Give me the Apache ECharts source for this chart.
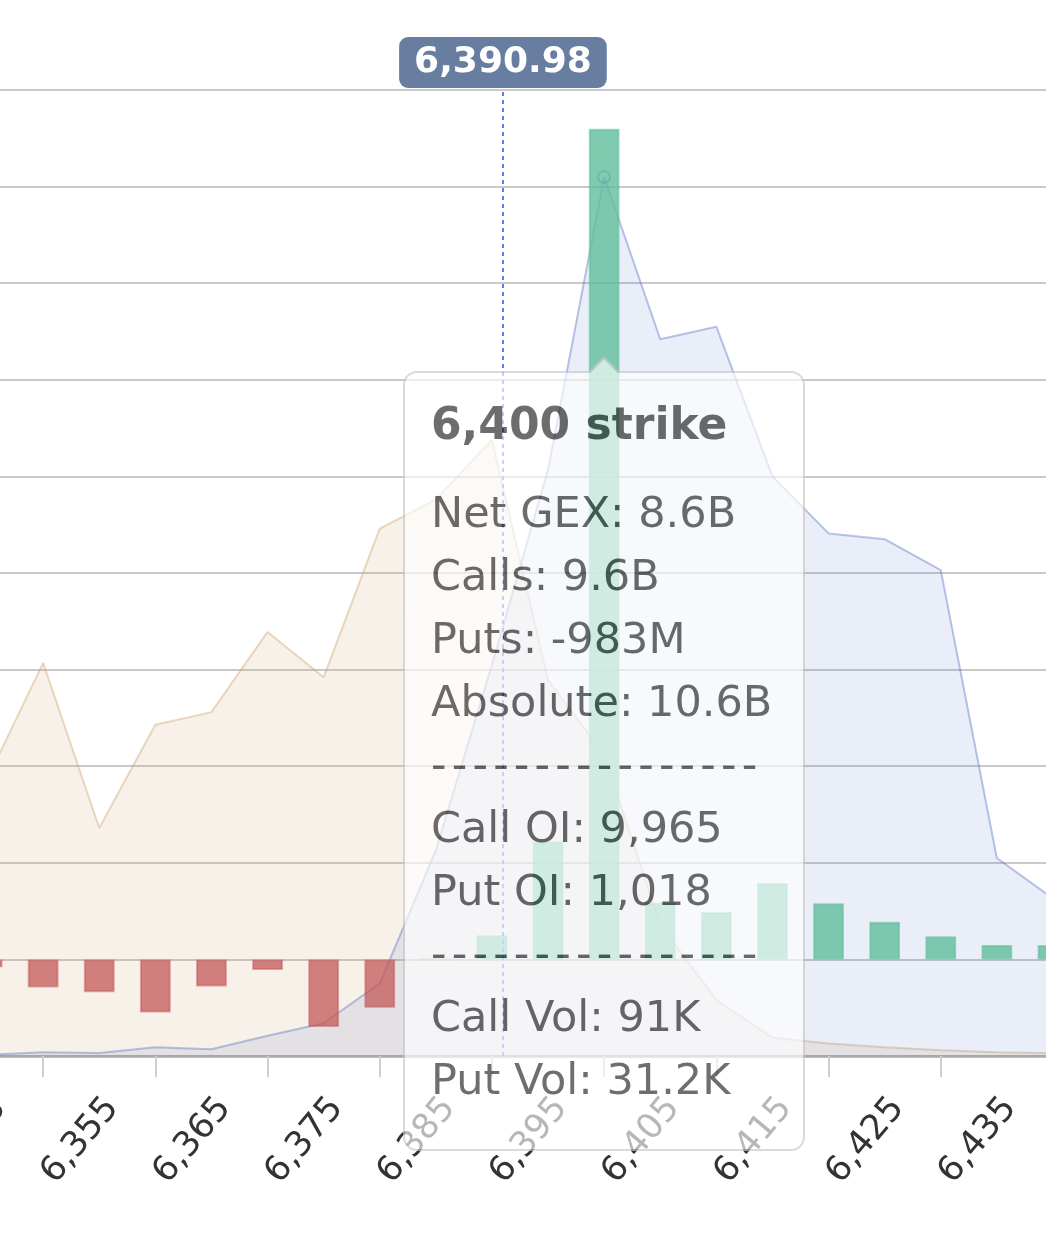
<!DOCTYPE html>
<html>
<head>
<meta charset="utf-8">
<script src="https://cdn.jsdelivr.net/npm/echarts@6/dist/echarts.min.js"></script>
<style>
  html, body { margin: 0; padding: 0; background: #fff; }
  #chart { width: 1046px; height: 1250px; }
</style>
</head>
<body>
<div id="chart"></div>
<script>
// ---- data ----
const strikes = [6345, 6350, 6355, 6360, 6365, 6370, 6375, 6380, 6385, 6390,
                 6395, 6400, 6405, 6410, 6415, 6420, 6425, 6430, 6435, 6440];
// Net GEX per strike, billions
const netGex = [-0.08, -0.29, -0.34, -0.55, -0.28, -0.11, -0.70, -0.50, 0.00, 0.25,
                 1.22, 8.6, 0.59, 0.49, 0.79, 0.58, 0.39, 0.24, 0.15, 0.15];
// Call volume per strike, thousands
const callVol = [0.1, 0.4, 0.3, 0.9, 0.7, 2.1, 3.4, 7.5, 21.3, 40.5,
                 60.7, 91, 74.2, 75.5, 60.0, 54.1, 53.5, 50.3, 20.5, 16.3];
// Put volume per strike, thousands
const putVol = [28.6, 40.7, 23.6, 34.3, 35.6, 43.9, 39.2, 54.6, 57.6, 63.8,
                38.9, 31.2, 13.6, 5.8, 1.9, 1.3, 0.9, 0.6, 0.4, 0.3];
// spot price marker
const spotPrice = 6390.98;
// hovered strike details (tooltip)
const hoverStrike = 6400;
const hoverCallsGex = 9.6;     // billions
const hoverPutsGex = -0.983;   // billions
const hoverCallOI = 9965;
const hoverPutOI = 1018;
const hoverPointerGex = 6.09;  // pointer height on the GEX axis
// axis scales
const gexMin = -1, gexMax = 9, gexStep = 1;
const volMin = 0, volMax = 100, volStep = 10;

const FONT = "'DejaVu Sans', 'Noto Sans', sans-serif";

function fmtGex(v) {
  if (Math.abs(v) >= 1) return v.toFixed(1) + 'B';
  return Math.round(v * 1000) + 'M';
}
function fmtK(v) { return (Math.round(v * 10) / 10) + 'K'; }
function fmtNum(v) { return Number(v).toLocaleString('en-US'); }

const chart = echarts.init(document.getElementById('chart'));

const GREEN = 'rgba(95,190,155,0.8)';
const GREEN_B = 'rgba(95,190,155,0.55)';
const RED = 'rgba(196,88,88,0.75)';
const RED_B = 'rgba(196,88,88,0.5)';

const halfStep = (strikes[1] - strikes[0]) / 2;

const option = {
  animation: false,
  backgroundColor: '#ffffff',
  grid: { left: -41, right: -35, top: 90, bottom: 194, containLabel: false, outerBoundsMode: 'none' },
  xAxis: [
    {
      type: 'category',
      data: strikes.map(String),
      boundaryGap: true,
      axisLine: { show: true, onZero: false, lineStyle: { color: '#a9a9a9', width: 2.5 } },
      axisTick: {
        show: true, alignWithLabel: true, length: 21,
        interval: function (i) { return i % 2 === 1; },
        lineStyle: { color: '#cfcfcf', width: 2 }
      },
      axisLabel: {
        interval: 1, rotate: 50, margin: 35, verticalAlign: 'top',
        color: '#333', fontSize: 35, fontFamily: FONT,
        formatter: function (v) { return fmtNum(v); }
      },
      splitLine: { show: false }
    },
    {
      type: 'value', show: false,
      min: strikes[0] - halfStep, max: strikes[strikes.length - 1] + halfStep,
      splitLine: { show: false }
    }
  ],
  yAxis: [
    {
      type: 'value', min: gexMin, max: gexMax, interval: gexStep,
      axisLabel: { show: false }, axisLine: { show: false }, axisTick: { show: false },
      splitLine: { show: true, lineStyle: { color: '#c9c9c9', width: 2 } }
    },
    {
      type: 'value', min: volMin, max: volMax, interval: volStep, show: false,
      splitLine: { show: false }
    }
  ],
  tooltip: {
    show: true,
    trigger: 'item',
    triggerOn: 'none',
    alwaysShowContent: true,
    transitionDuration: 0,
    showDelay: 0,
    backgroundColor: '#ffffff',
    borderColor: '#c6c6c6',
    borderWidth: 2,
    padding: [19, 26, 38, 26],
    extraCssText: 'opacity:0.65;border-radius:14px;box-shadow:none;overflow:visible;',
    textStyle: { fontFamily: FONT, fontSize: 42, color: '#1f1f1f' },
    position: function (point, params, dom, rect, size) {
      const cx = chart.convertToPixel({ xAxisIndex: 0 }, String(strikes[params.dataIndex]));
      const cy = chart.convertToPixel({ yAxisIndex: 0 }, hoverPointerGex);
      return [cx - size.contentSize[0] / 2, cy];
    },
    formatter: function (p) {
      const i = p.dataIndex;
      const dash = '-'.repeat(16);
      const abs = hoverCallsGex + Math.abs(hoverPutsGex);
      const lines = [
        'Net GEX: ' + fmtGex(netGex[i]),
        'Calls: ' + fmtGex(hoverCallsGex),
        'Puts: ' + fmtGex(hoverPutsGex),
        'Absolute: ' + fmtGex(abs),
        dash,
        'Call OI: ' + fmtNum(hoverCallOI),
        'Put OI: ' + fmtNum(hoverPutOI),
        dash,
        'Call Vol: ' + fmtK(callVol[i]),
        'Put Vol: ' + fmtK(putVol[i])
      ];
      let html = '<div style="position:absolute;left:calc(50% - 11px);top:-12px;width:22px;height:22px;box-sizing:border-box;background:#fff;border-left:2px solid #c6c6c6;border-top:2px solid #c6c6c6;transform:rotate(45deg);"></div>';
      html += '<div style="width:346px;font-family:' + FONT.replace(/'/g, '&quot;') + ';color:#1f1f1f;">';
      html += '<div style="font-weight:bold;font-size:44px;line-height:63px;margin-bottom:26px;">' + fmtNum(strikes[i]) + ' strike</div>';
      lines.forEach(function (t) {
        const ls = t === dash ? 'letter-spacing:5.2px;' : '';
        html += '<div style="font-size:43px;line-height:63px;white-space:nowrap;' + ls + '">' + t + '</div>';
      });
      html += '</div>';
      return html;
    }
  },
  series: [
    {
      name: 'Put Volume', type: 'line', xAxisIndex: 0, yAxisIndex: 1,
      data: putVol, symbol: 'none', silent: true, z: 1,
      lineStyle: { color: 'rgba(205,160,105,0.4)', width: 2 },
      areaStyle: { color: 'rgba(205,160,105,0.21)' },
      tooltip: { show: false }
    },
    {
      name: 'Call Volume', type: 'line', xAxisIndex: 0, yAxisIndex: 1,
      data: callVol, symbol: 'none', silent: true, z: 2,
      lineStyle: { color: 'rgba(80,110,195,0.4)', width: 2 },
      areaStyle: { color: 'rgba(80,110,195,0.17)' },
      tooltip: { show: false },
      markPoint: {
        silent: true,
        symbol: 'circle', symbolSize: 12,
        itemStyle: { color: 'rgba(255,255,255,0)', borderColor: 'rgba(80,110,195,0.22)', borderWidth: 2 },
        label: { show: false },
        data: [{ coord: [String(hoverStrike), callVol[strikes.indexOf(hoverStrike)]] }]
      }
    },
    {
      name: 'Net GEX', type: 'bar', xAxisIndex: 0, yAxisIndex: 0, z: 3,
      barWidth: '55%',
      data: netGex.map(function (v) {
        return {
          value: v,
          itemStyle: {
            color: v >= 0 ? GREEN : RED,
            borderColor: v >= 0 ? GREEN_B : RED_B,
            borderWidth: 2
          }
        };
      }),
      emphasis: { disabled: true }
    },
    {
      name: 'Spot', type: 'line', xAxisIndex: 1, yAxisIndex: 0, data: [], z: 4,
      symbol: 'none', silent: true, tooltip: { show: false },
      markLine: {
        silent: true,
        symbol: ['none', 'none'],
        lineStyle: { color: '#5b7de6', width: 2, type: [4, 4] },
        label: {
          show: true, position: 'end', distance: 2,
          formatter: function () { return fmtNum(spotPrice); },
          backgroundColor: '#687ea1', color: '#ffffff',
          fontFamily: FONT, fontWeight: 'bold', fontSize: 36,
          padding: [8, 15, 7, 15], borderRadius: 9
        },
        data: [{ xAxis: spotPrice }]
      }
    }
  ]
};

chart.setOption(option);
chart.dispatchAction({ type: 'showTip', seriesIndex: 2, dataIndex: strikes.indexOf(hoverStrike) });
</script>
</body>
</html>
